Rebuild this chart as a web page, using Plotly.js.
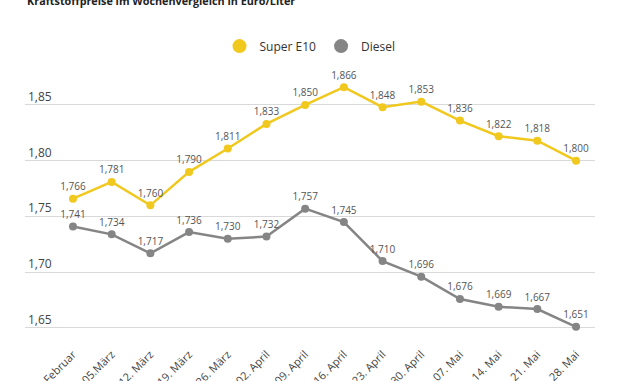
<!DOCTYPE html>
<html>
<head>
<meta charset="utf-8">
<script src="https://cdn.plot.ly/plotly-3.0.1.min.js"></script>
<style>html,body{margin:0;padding:0;background:#fff;}#chart{width:630px;height:381px;}</style>
</head>
<body>
<div id="chart"></div>
<script>
const categories = ["26. Februar","05.März","12. März","19. März","26. März","02. April","09. April","16. April","23. April","30. April","07. Mai","14. Mai","21. Mai","28. Mai"];
const superE10 = [1.766,1.781,1.760,1.790,1.811,1.833,1.850,1.866,1.848,1.853,1.836,1.822,1.818,1.800];
const diesel = [1.741,1.734,1.717,1.736,1.730,1.732,1.757,1.745,1.710,1.696,1.676,1.669,1.667,1.651];
const yTicks = [1.65,1.70,1.75,1.80,1.85];

const yellow = "#F0C81E";
const grey = "#858585";

const traces = [
  {x: categories, y: superE10, type: "scatter", mode: "lines+markers+text", name: "Super E10",
   line: {color: yellow, width: 2.5}, marker: {color: yellow, size: 8},
   texttemplate: "%{y:.3f}", textposition: "top center", textfont: {size: 10, color: "#555"},
   showlegend: false, cliponaxis: false},
  {x: categories, y: diesel, type: "scatter", mode: "lines+markers+text", name: "Diesel",
   line: {color: grey, width: 2.5}, marker: {color: grey, size: 8},
   texttemplate: "%{y:.3f}", textposition: "top center", textfont: {size: 10, color: "#555"},
   showlegend: false, cliponaxis: false},
  {x: [null], y: [null], type: "scatter", mode: "markers", name: "Super E10",
   marker: {color: yellow, size: 14}},
  {x: [null], y: [null], type: "scatter", mode: "markers", name: "Diesel",
   marker: {color: grey, size: 14}}
];

const layout = {
  width: 630, height: 381,
  margin: {l: 25, r: 35, t: 80, b: 46},
  paper_bgcolor: "#fff", plot_bgcolor: "#fff",
  separators: ",.",
  font: {family: "Open Sans, sans-serif", color: "#444"},
  title: {text: "<b>Kraftstoffpreise im Wochenvergleich in Euro/Liter</b>",
          x: 0.043, xanchor: "left", y: 0.997, yanchor: "middle", yref: "container",
          font: {size: 10.8, color: "#222"}},
  showlegend: true,
  legend: {orientation: "h", x: 0.5, xanchor: "center", y: 1.133, yanchor: "middle",
           font: {size: 12, color: "#333"}, itemwidth: 30},
  xaxis: {type: "category", range: [-1.24, 13.49], showgrid: false, zeroline: false,
          showline: false, ticks: "", tickangle: -45, ticklabelstandoff: 10,
          tickfont: {size: 11, color: "#444"}},
  yaxis: {range: [1.6437, 1.8724], tickvals: yTicks, tickformat: ".2f",
          ticklabelposition: "inside top", showgrid: true, gridcolor: "#d9d9d9", gridwidth: 1,
          zeroline: false, showline: false, ticks: "", tickfont: {size: 12, color: "#444"}}
};

Plotly.newPlot("chart", traces, layout, {displayModeBar: false, staticPlot: true});
</script>
</body>
</html>
